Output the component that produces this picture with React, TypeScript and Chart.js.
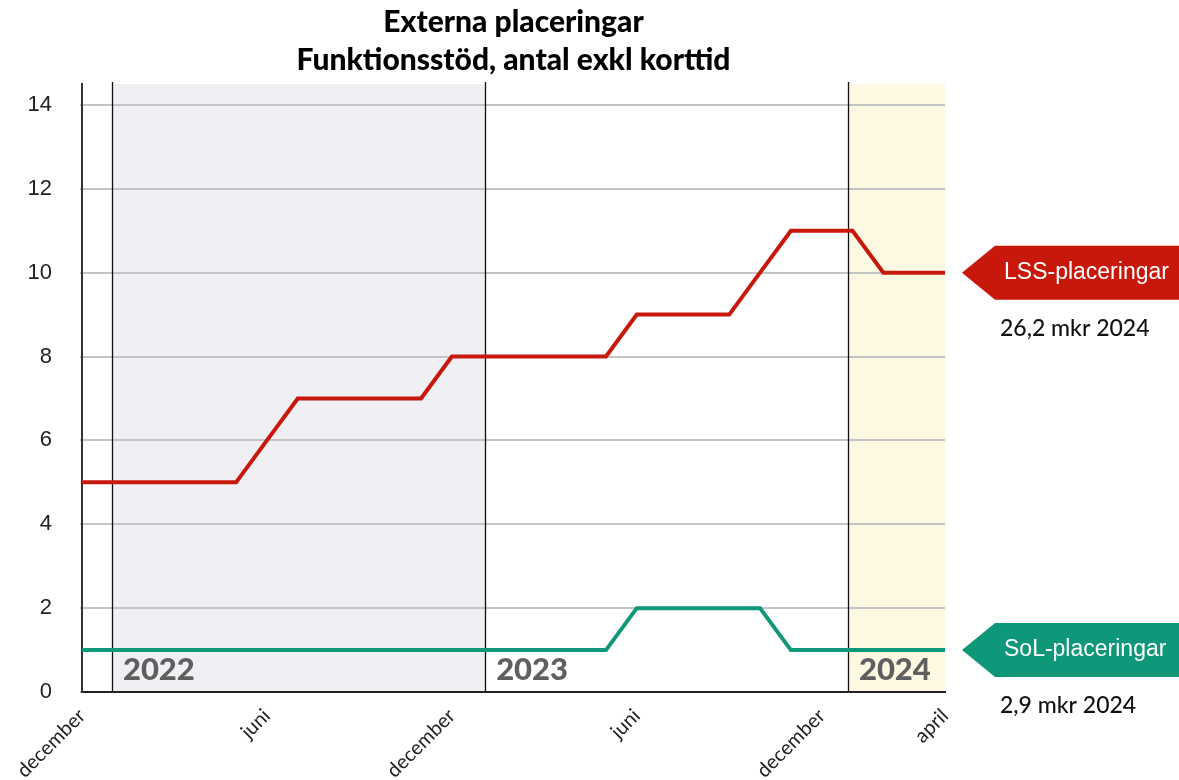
import React, { useEffect, useRef } from "react";
import { Chart, registerables } from "chart.js";

Chart.register(...registerables);

// ---- data ----
const months = [
  "december",
  "januari", "februari", "mars", "april", "maj", "juni", "juli", "augusti", "september", "oktober", "november", "december",
  "januari", "februari", "mars", "april", "maj", "juni", "juli", "augusti", "september", "oktober", "november", "december",
  "januari", "februari", "mars", "april",
];
const shownTicks = [0, 6, 12, 18, 24, 28];

const lssValues = [5, 5, 5, 5, 5, 5, 6, 7, 7, 7, 7, 7, 8, 8, 8, 8, 8, 8, 9, 9, 9, 9, 10, 11, 11, 11, 10, 10, 10];
const solValues = [1, 1, 1, 1, 1, 1, 1, 1, 1, 1, 1, 1, 1, 1, 1, 1, 1, 1, 2, 2, 2, 2, 2, 1, 1, 1, 1, 1, 1];

const seriesNames = ["LSS-placeringar", "SoL-placeringar"];
const costNotes = ["26,2 mkr 2024", "2,9 mkr 2024"];
const seriesColors = ["#c8180c", "#0e9779"];

const yearLabels = ["2022", "2023", "2024"];
const yearStarts = [0.97, 13.08, 24.85];
const yearFills = ["#efeff4", "#ffffff", "#fdf8e1"];

const titleLines = ["Externa placeringar", "Funktionsstöd, antal exkl korttid"];

const yTicks = [0, 2, 4, 6, 8, 10, 12, 14];

const decorPlugin = {
  id: "decor",
  beforeDraw(chart: any) {
    const { ctx, chartArea, scales } = chart;
    const { top, bottom, right } = chartArea;
    const x = scales.x;
    ctx.save();
    for (let i = 0; i < yearStarts.length; i++) {
      const x0 = x.getPixelForValue(yearStarts[i]);
      const x1 = i < yearStarts.length - 1 ? x.getPixelForValue(yearStarts[i + 1]) : right;
      ctx.fillStyle = yearFills[i];
      ctx.fillRect(x0, top, x1 - x0, bottom - top);
    }
    ctx.restore();
  },
  beforeDatasetsDraw(chart: any) {
    const { ctx, chartArea, scales } = chart;
    const { top, bottom } = chartArea;
    const x = scales.x;
    ctx.save();
    ctx.strokeStyle = "#111";
    ctx.lineWidth = 1.3;
    for (let i = 0; i < yearStarts.length; i++) {
      const xp = Math.round(x.getPixelForValue(yearStarts[i])) + 0.5;
      ctx.beginPath();
      ctx.moveTo(xp, top - 2);
      ctx.lineTo(xp, bottom);
      ctx.stroke();
    }
    ctx.fillStyle = "#5f5f5f";
    ctx.font = "900 31px Lato";
    ctx.textAlign = "left";
    ctx.textBaseline = "alphabetic";
    for (let i = 0; i < yearStarts.length; i++) {
      const xp = x.getPixelForValue(yearStarts[i]);
      ctx.fillText(yearLabels[i], xp + 11, bottom - 12);
    }
    ctx.restore();
  },
  afterDraw(chart: any) {
    const { ctx, chartArea, scales, width } = chart;
    const { left, right } = chartArea;
    const y = scales.y;
    ctx.save();
    // title
    ctx.fillStyle = "#000";
    ctx.font = "900 30px Lato";
    ctx.textAlign = "center";
    ctx.textBaseline = "middle";
    const cx = (left + right) / 2;
    ctx.fillText(titleLines[0], cx, 22);
    ctx.fillText(titleLines[1], cx, 60);

    // right-side labels
    const seriesData = [lssValues, solValues];
    for (let i = 0; i < seriesData.length; i++) {
      const vals = seriesData[i];
      const yv = y.getPixelForValue(vals[vals.length - 1]);
      const tipX = right + 17;
      const rectX = right + 50;
      const h = 54;
      ctx.fillStyle = seriesColors[i];
      ctx.beginPath();
      ctx.moveTo(tipX, yv);
      ctx.lineTo(rectX, yv - h / 2);
      ctx.lineTo(width, yv - h / 2);
      ctx.lineTo(width, yv + h / 2);
      ctx.lineTo(rectX, yv + h / 2);
      ctx.closePath();
      ctx.fill();
      ctx.fillStyle = "#fff";
      ctx.font = "23px 'Liberation Sans', Arial, sans-serif";
      ctx.textAlign = "left";
      ctx.textBaseline = "middle";
      ctx.fillText(seriesNames[i], rectX + 9, yv);
      ctx.fillStyle = "#111";
      ctx.font = "500 23px Lato";
      ctx.fillText(costNotes[i], rectX + 5, yv + 56);
    }
    ctx.restore();
  },
};

export default function App() {
  const canvasRef = useRef<HTMLCanvasElement | null>(null);

  useEffect(() => {
    document.body.style.margin = "0";
    const canvas = canvasRef.current;
    if (!canvas) return;
    const chart = new Chart(canvas, {
      type: "line",
      data: {
        labels: months,
        datasets: [
          {
            label: seriesNames[0],
            data: lssValues,
            borderColor: seriesColors[0],
            borderWidth: 4,
            pointRadius: 0,
            tension: 0,
            fill: false,
          },
          {
            label: seriesNames[1],
            data: solValues,
            borderColor: seriesColors[1],
            borderWidth: 4,
            pointRadius: 0,
            tension: 0,
            fill: false,
          },
        ],
      },
      options: {
        animation: false,
        responsive: true,
        maintainAspectRatio: false,
        layout: { padding: { top: 84, right: 234, left: 0, bottom: 0 } },
        plugins: {
          legend: { display: false },
          tooltip: { enabled: false },
          title: { display: false },
        },
        scales: {
          x: {
            type: "category",
            offset: false,
            grid: { display: false, drawTicks: false },
            border: { display: true, color: "#222", width: 2 },
            afterFit: (scale: any) => {
              scale.height = 88;
            },
            ticks: {
              autoSkip: false,
              maxRotation: 45,
              minRotation: 45,
              padding: 12,
              color: "#222",
              font: { family: "Lato", size: 20 },
              callback: (_v: any, idx: number) => (shownTicks.includes(idx) ? months[idx] : ""),
            },
          },
          y: {
            type: "linear",
            min: 0,
            max: 14.5,
            afterFit: (scale: any) => {
              scale.width = 82;
            },
            afterBuildTicks: (scale: any) => {
              scale.ticks = yTicks.map((v) => ({ value: v }));
            },
            grid: { color: "#c4c4c4", lineWidth: 2, tickLength: 2 },
            border: { display: true, color: "#333", width: 2 },
            ticks: {
              padding: 28,
              color: "#222",
              font: { family: "'Liberation Sans', Arial, sans-serif", size: 22 },
            },
          },
        },
      },
      plugins: [decorPlugin],
    });
    return () => chart.destroy();
  }, []);

  return (
    <div style={{ position: "fixed", left: 0, top: 0, width: 1179, height: 780, background: "#fff" }}>
      <canvas ref={canvasRef} />
    </div>
  );
}
